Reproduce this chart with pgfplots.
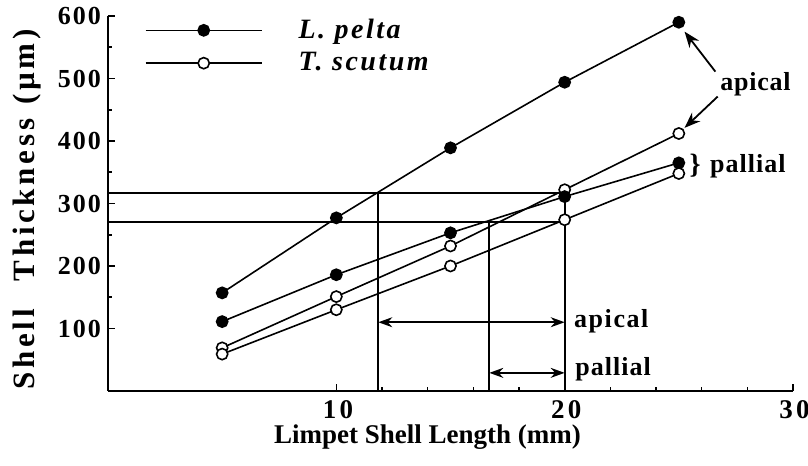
\documentclass[border=0pt]{standalone}
\usepackage{pgfplots}
\pgfplotsset{compat=1.18}
\usepackage{fontspec}
\setmainfont{Liberation Serif}
\usetikzlibrary{arrows.meta}
\newcommand{\fs}[2]{\fontsize{#1bp}{#1bp}\selectfont\bfseries\addfontfeature{LetterSpace=#2}}
\begin{document}
\begin{tikzpicture}
\begin{axis}[
 name=ax,
 width=342.5bp, height=187.5bp, scale only axis,
 xmin=0, xmax=30, ymin=0, ymax=600,
 axis x line*=bottom, axis y line*=left,
 axis line style={line width=1bp},
 xtick={10,20,30}, ytick={100,200,...,600},
 minor x tick num=4, minor y tick num=1,
 tick align=inside,
 major tick length=3.5bp, minor tick length=2bp,
 tick style={line width=0.8bp,black},
 /pgf/number format/assume math mode=true,
 xticklabel style={font=\fs{13.5}{12}, yshift=-1.5bp, xshift=0.8bp},
 yticklabel style={font=\fs{13}{8}},
 xlabel={Limpet Shell Length (mm)},
 xlabel style={font=\fs{13.5}{0}, xshift=-11.5bp, yshift=4bp},
 ylabel={Shell\hspace{0.9em}Thickness\hspace{0.45em}(µm)},
 ylabel style={font=\fs{15.5}{12}, yshift=1.5bp, xshift=-3bp},
 clip=false,
 legend style={draw=none, fill=none, inner sep=0pt, at={(axis cs:1.6,602)}, anchor=north west, font=\fontsize{14bp}{14bp}\selectfont\bfseries\itshape\addfontfeature{LetterSpace=9}, row sep=1.5bp},
 legend cell align=left,
 legend image code/.code={\draw[mark repeat=2,mark phase=2,#1] plot coordinates {(0bp,0bp) (29bp,0bp) (58bp,0bp)}; \path (74bp,0bp);},
 every axis plot/.append style={line width=0.8bp, black, mark size=2.8bp},
]
% reference lines
\addplot[forget plot, line width=1bp] coordinates {(0,317) (20,317)};
\addplot[forget plot, line width=1bp] coordinates {(0,270) (20,270)};
\addplot[forget plot, line width=1bp] coordinates {(11.84,0) (11.84,317)};
\addplot[forget plot, line width=1bp] coordinates {(16.7,0) (16.7,270)};
\addplot[forget plot, line width=1bp] coordinates {(20,0) (20,317)};
% data
\addplot[mark=*, mark options={fill=black, solid}] coordinates {(5,157) (10,277) (15,389) (20,494) (25,590)};
\addlegendentry{L. pelta}
\addplot[mark=*, mark options={fill=white, solid}] coordinates {(5,69) (10,151) (15,232) (20,322) (25,412)};
\addlegendentry{T. scutum}
\addplot[forget plot, mark=*, mark options={fill=black, solid}] coordinates {(5,111) (10,186) (15,253) (20,311) (25,365)};
\addplot[forget plot, mark=*, mark options={fill=white, solid}] coordinates {(5,59) (10,130) (15,200) (20,274) (25,348)};
% annotations
\draw[line width=0.8bp, {Stealth[length=7bp,width=5bp]}-{Stealth[length=7bp,width=5bp]}] (axis cs:11.84,110) -- (axis cs:20,110);
\draw[line width=0.8bp, {Stealth[length=7bp,width=5bp]}-{Stealth[length=7bp,width=5bp]}] (axis cs:16.7,29) -- (axis cs:20,29);
\draw[line width=0.9bp, -{Stealth[length=8bp,width=6bp]}] (axis cs:26.6,511) -- (axis cs:25.25,575);
\draw[line width=0.9bp, -{Stealth[length=8bp,width=6bp]}] (axis cs:26.7,471) -- (axis cs:25.25,421);
\node[anchor=west, inner sep=0pt, font=\fs{13}{3}] at (axis cs:26.8,490) {apical};
\node[anchor=west, inner sep=0pt, font=\fs{14}{0}] at (axis cs:25.45,361) {\}};
\node[anchor=west, inner sep=0pt, font=\fs{13}{4}] at (axis cs:26.35,359) {pallial};
\node[anchor=west, inner sep=0pt, font=\fs{13}{6}] at (axis cs:20.4,112) {apical};
\node[anchor=west, inner sep=0pt, font=\fs{13}{4}] at (axis cs:20.45,35) {pallial};
\end{axis}
\pgfresetboundingbox
\path ([shift={(-54bp,-37.5bp)}]ax.south west) rectangle ([shift={(7.5bp,8bp)}]ax.north east);
\end{tikzpicture}
\end{document}
